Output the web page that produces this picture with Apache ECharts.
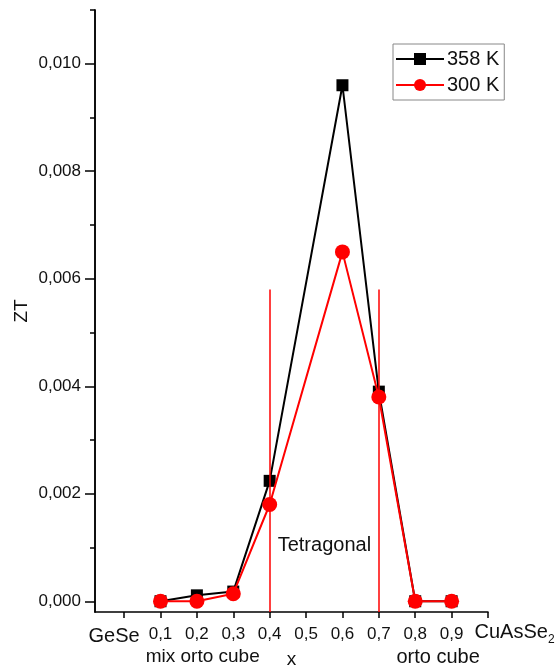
<!DOCTYPE html>
<html>
<head>
<meta charset="utf-8">
<script src="https://cdn.jsdelivr.net/npm/echarts@6/dist/echarts.min.js"></script>
<style>
  html, body { margin: 0; padding: 0; background: #fff; }
  #chart { width: 559px; height: 669px; }
</style>
</head>
<body>
<div id="chart"></div>
<script>
// ---- data ----
var xValues = [0.1, 0.2, 0.3, 0.4, 0.6, 0.7, 0.8, 0.9];
var zt358 = [0, 0.00011, 0.00018, 0.00224, 0.0096, 0.0039, 0, 0];
var zt300 = [0, 0, 0.00014, 0.0018, 0.0065, 0.0038, 0, 0];

var xTickValues = [0, 0.1, 0.2, 0.3, 0.4, 0.5, 0.6, 0.7, 0.8, 0.9, 1.0];
var xLabelValues = [0, 0.1, 0.2, 0.3, 0.4, 0.5, 0.6, 0.7, 0.8, 0.9];
var yMajorTicks = [0, 0.002, 0.004, 0.006, 0.008, 0.010];
var yMinorTicks = [0.001, 0.003, 0.005, 0.007, 0.009, 0.011];

// phase boundaries (vertical red lines) and their top
var phaseBounds = [0.4, 0.7];
var phaseTop = 0.0058;

var font = 'Liberation Sans, Arial, sans-serif';
var ink = '#111';

function pairs(xs, ys) {
  return xs.map(function (x, i) { return [x, ys[i]]; });
}
function comma(v, d) { return v.toFixed(d).replace('.', ','); }

var chart = echarts.init(document.getElementById('chart'), null, { renderer: 'canvas' });

chart.setOption({
  animation: false,
  backgroundColor: '#fff',
  textStyle: { fontFamily: font, color: ink },
  grid: { left: 95, right: 71, top: 10, bottom: 57, outerBoundsMode: 'none', containLabel: false },
  legend: {
    orient: 'vertical',
    left: 393,
    top: 44,
    padding: [5, 5, 5, 2],
    itemGap: 6,
    itemWidth: 48,
    itemHeight: 15,
    borderColor: '#888',
    borderWidth: 1,
    textStyle: { fontSize: 20, color: ink, fontFamily: font, padding: [0, 0, 0, -2] },
    data: ['358 K', '300 K']
  },
  xAxis: {
    type: 'value',
    min: -0.08,
    max: 1.0,
    name: 'x',
    nameLocation: 'middle',
    nameGap: 38,
    nameMoveOverlap: false,
    nameTextStyle: { fontSize: 19, color: ink, fontFamily: font },
    axisLine: { onZero: false, lineStyle: { color: '#000', width: 1.5 } },
    axisTick: { customValues: xTickValues, length: 6, lineStyle: { color: '#000', width: 1.5 } },
    axisLabel: {
      customValues: xLabelValues,
      fontSize: 17,
      color: ink,
      margin: 14,
      formatter: function (v) { return v === 0 ? '{w|GeSe}' : comma(v, 1); },
      rich: { w: { fontSize: 20, color: ink, fontFamily: font, padding: [0, 20, 0, 0] } }
    },
    splitLine: { show: false }
  },
  yAxis: [
    {
      type: 'value',
      min: -0.0002,
      max: 0.011,
      name: 'ZT',
      nameLocation: 'middle',
      nameGap: 64,
      nameMoveOverlap: false,
      nameTextStyle: { fontSize: 19, color: ink, fontFamily: font },
      axisLine: { show: true, onZero: false, lineStyle: { color: '#000', width: 1.5 } },
      axisTick: { customValues: yMajorTicks, length: 10, lineStyle: { color: '#000', width: 1.5 } },
      axisLabel: {
        customValues: yMajorTicks,
        fontSize: 17,
        color: ink,
        margin: 14,
        formatter: function (v) { return comma(v, 3); }
      },
      splitLine: { show: false }
    },
    {
      type: 'value',
      min: -0.0002,
      max: 0.011,
      position: 'left',
      offset: 0,
      axisLine: { show: true, onZero: false, lineStyle: { color: '#000', width: 1.5 } },
      axisTick: { customValues: yMinorTicks, length: 5, lineStyle: { color: '#000', width: 1.5 } },
      axisLabel: { show: false },
      splitLine: { show: false }
    }
  ],
  series: [
    {
      name: '358 K',
      type: 'line',
      data: pairs(xValues, zt358),
      symbol: 'rect',
      symbolSize: 12,
      lineStyle: { color: '#000', width: 2 },
      itemStyle: { color: '#000' },
      z: 3
    },
    {
      name: '300 K',
      type: 'line',
      data: pairs(xValues, zt300),
      symbol: 'circle',
      symbolSize: 15,
      lineStyle: { color: '#ff0000', width: 2 },
      itemStyle: { color: '#ff0000' },
      z: 4,
      markLine: {
        silent: true,
        symbol: 'none',
        label: { show: false },
        lineStyle: { color: '#ff0000', width: 1.5, type: 'solid', opacity: 1 },
        data: phaseBounds.map(function (x) {
          return [{ coord: [x, -0.0002] }, { coord: [x, phaseTop] }];
        })
      }
    }
  ]
});

// ---- text annotations placed through the axes ----
function px(x, y) { return chart.convertToPixel({ xAxisIndex: 0, yAxisIndex: 0 }, [x, y]); }
var axisY = px(0, -0.0002)[1];

chart.setOption({
  graphic: [
    {
      type: 'text',
      x: px(0.422, 0)[0],
      y: px(0, 0.00104)[1],
      style: { text: 'Tetragonal', font: '20px ' + font, fill: ink, align: 'left', verticalAlign: 'middle' }
    },
    {
      type: 'text',
      x: px(0.216, 0)[0],
      y: axisY + 45,
      style: { text: 'mix orto cube', font: '19px ' + font, fill: ink, align: 'center', verticalAlign: 'middle' }
    },
    {
      type: 'text',
      x: px(0.863, 0)[0],
      y: axisY + 45,
      style: { text: 'orto cube', font: '20px ' + font, fill: ink, align: 'center', verticalAlign: 'middle' }
    },
    {
      type: 'text',
      x: px(0.963, 0)[0],
      y: axisY + 22,
      style: {
        text: '{a|CuAsSe}{s|2}',
        align: 'left',
        verticalAlign: 'middle',
        rich: {
          a: { fontSize: 20, fontFamily: font, fill: ink, color: ink, verticalAlign: 'top' },
          s: { fontSize: 12, fontFamily: font, fill: ink, color: ink, verticalAlign: 'bottom', padding: [12, 0, 0, 0] }
        }
      }
    }
  ]
});

window.addEventListener('resize', function () { chart.resize(); });
</script>
</body>
</html>
